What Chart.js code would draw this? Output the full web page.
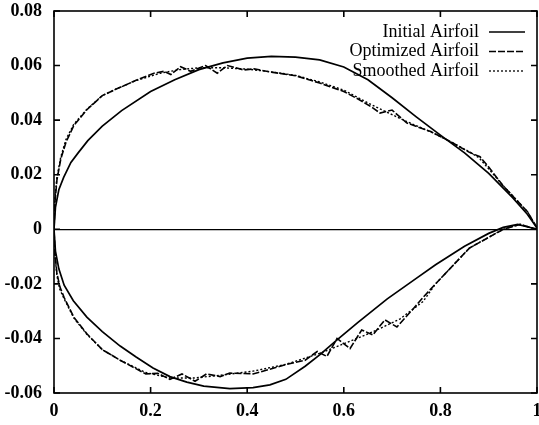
<!DOCTYPE html>
<html>
<head>
<meta charset="utf-8">
<script src="https://cdn.jsdelivr.net/npm/chart.js@4.4.0/dist/chart.umd.min.js"></script>
<style>
  html, body { margin: 0; padding: 0; background: #fff; overflow: hidden; }
</style>
</head>
<body>
<canvas id="airfoil" width="539" height="425"></canvas>
<script>
// axis ticks
var xTicks = [0, 0.2, 0.4, 0.6, 0.8, 1];
var yTicks = [-0.06, -0.04, -0.02, 0, 0.02, 0.04, 0.06, 0.08];
var seriesNames = ['Initial Airfoil', 'Optimized Airfoil', 'Smoothed Airfoil'];

// initial airfoil (upper / lower surface)
var initUpperX = [0, 0.003, 0.01, 0.02, 0.035, 0.05, 0.07, 0.1, 0.14, 0.2, 0.25, 0.3, 0.35, 0.4, 0.45, 0.5, 0.55, 0.6, 0.65, 0.7, 0.75, 0.8, 0.85, 0.9, 0.95, 0.98, 1.0];
var initUpperY = [0, 0.008, 0.0145, 0.019, 0.0245, 0.028, 0.0325, 0.0378, 0.0435, 0.0505, 0.0548, 0.0585, 0.061, 0.0627, 0.0634, 0.0631, 0.0621, 0.0595, 0.0548, 0.0482, 0.0412, 0.0345, 0.028, 0.0205, 0.0115, 0.0055, 0.0005];
var initLowerX = [0, 0.003, 0.01, 0.021, 0.04, 0.068, 0.1, 0.137, 0.17, 0.205, 0.24, 0.275, 0.31, 0.364, 0.412, 0.447, 0.48, 0.52, 0.55, 0.586, 0.63, 0.69, 0.75, 0.79, 0.85, 0.9, 0.93, 0.96, 1.0];
var initLowerY = [0, -0.008, -0.0145, -0.0205, -0.0262, -0.0322, -0.0375, -0.0428, -0.0468, -0.0508, -0.054, -0.056, -0.0575, -0.0584, -0.058, -0.057, -0.055, -0.0502, -0.046, -0.0405, -0.034, -0.0255, -0.018, -0.013, -0.0062, -0.0015, 0.0007, 0.0018, 0];

// optimized airfoil
var optUpperX = [0, 0.002, 0.006, 0.014, 0.025, 0.041, 0.068, 0.1, 0.13, 0.17, 0.207, 0.228, 0.242, 0.262, 0.283, 0.314, 0.338, 0.359, 0.393, 0.414, 0.45, 0.5, 0.55, 0.6, 0.634, 0.66, 0.675, 0.7, 0.73, 0.78, 0.82, 0.86, 0.882, 0.9, 0.93, 0.98, 1.0];
var optUpperY = [0, 0.01, 0.018, 0.0257, 0.032, 0.038, 0.0438, 0.049, 0.0515, 0.0546, 0.0572, 0.0579, 0.0567, 0.0596, 0.0579, 0.06, 0.0572, 0.06, 0.0584, 0.0588, 0.0576, 0.0563, 0.0536, 0.0505, 0.0473, 0.0445, 0.0426, 0.0437, 0.039, 0.0358, 0.0322, 0.0282, 0.0266, 0.0228, 0.0159, 0.0065, 0.0005];
var optLowerX = [0, 0.002, 0.006, 0.012, 0.021, 0.041, 0.068, 0.1, 0.137, 0.19, 0.215, 0.24, 0.265, 0.292, 0.316, 0.344, 0.364, 0.412, 0.447, 0.48, 0.52, 0.545, 0.565, 0.586, 0.613, 0.637, 0.66, 0.685, 0.71, 0.743, 0.764, 0.79, 0.86, 0.93, 0.965, 1.0];
var optLowerY = [0, -0.009, -0.016, -0.021, -0.025, -0.0322, -0.0383, -0.0441, -0.048, -0.053, -0.0528, -0.055, -0.053, -0.0557, -0.053, -0.054, -0.0527, -0.053, -0.0513, -0.0496, -0.048, -0.0448, -0.0466, -0.04, -0.0437, -0.0369, -0.0387, -0.0332, -0.0358, -0.0293, -0.025, -0.02, -0.0069, 0, 0.0018, 0];

// smoothed airfoil
var smoUpperX = [0, 0.002, 0.006, 0.014, 0.025, 0.041, 0.068, 0.1, 0.13, 0.17, 0.22, 0.26, 0.3, 0.35, 0.4, 0.45, 0.5, 0.55, 0.6, 0.65, 0.7, 0.73, 0.78, 0.82, 0.86, 0.88, 0.93, 0.98, 1.0];
var smoUpperY = [0, 0.011, 0.019, 0.0265, 0.033, 0.0385, 0.044, 0.049, 0.0515, 0.0545, 0.0572, 0.0585, 0.0592, 0.0592, 0.0587, 0.0577, 0.0564, 0.054, 0.051, 0.0463, 0.042, 0.0395, 0.0357, 0.0322, 0.0284, 0.0262, 0.016, 0.0065, 0.0005];
var smoLowerX = [0, 0.002, 0.006, 0.012, 0.021, 0.041, 0.068, 0.1, 0.137, 0.19, 0.24, 0.29, 0.344, 0.412, 0.48, 0.55, 0.613, 0.66, 0.716, 0.764, 0.79, 0.86, 0.93, 0.965, 1.0];
var smoLowerY = [0, -0.0095, -0.017, -0.022, -0.0255, -0.0325, -0.0385, -0.0441, -0.048, -0.0525, -0.0545, -0.0545, -0.0535, -0.052, -0.0495, -0.0455, -0.041, -0.0376, -0.0329, -0.0265, -0.02, -0.0069, 0, 0.0018, 0];

// trailing edge -> leading edge along upper, then back along lower
function outline(ux, uy, lx, ly) {
  var pts = [];
  for (var i = ux.length - 1; i >= 0; i--) pts.push({x: ux[i], y: uy[i]});
  for (var j = 1; j < lx.length; j++) pts.push({x: lx[j], y: ly[j]});
  return pts;
}

var serif = 'Liberation Serif, Times New Roman, serif';

var frame = {
  id: 'frame',
  afterDatasetsDraw: function(chart) {
    var ctx = chart.ctx, a = chart.chartArea;
    var xs = chart.scales.x, ys = chart.scales.y;
    ctx.save();
    ctx.strokeStyle = '#000';
    ctx.lineWidth = 1.6;
    ctx.strokeRect(a.left, a.top, a.right - a.left, a.bottom - a.top);
    ctx.beginPath();
    xTicks.forEach(function(v) {
      var p = xs.getPixelForValue(v);
      ctx.moveTo(p, a.bottom); ctx.lineTo(p, a.bottom - 6);
      ctx.moveTo(p, a.top); ctx.lineTo(p, a.top + 6);
    });
    yTicks.forEach(function(v) {
      var p = ys.getPixelForValue(v);
      ctx.moveTo(a.left, p); ctx.lineTo(a.left + 6, p);
      ctx.moveTo(a.right, p); ctx.lineTo(a.right - 6, p);
    });
    ctx.stroke();

    // legend, text on the left of the line sample
    ctx.font = '18px ' + serif;
    ctx.fillStyle = '#000';
    ctx.textAlign = 'right';
    ctx.textBaseline = 'middle';
    chart.data.datasets.forEach(function(ds, i) {
      var y = 32 + i * 19.5;
      ctx.fillText(ds.label, 479, y);
      ctx.beginPath();
      ctx.setLineDash(ds.borderDash || []);
      ctx.lineWidth = 1.3;
      ctx.moveTo(489, y); ctx.lineTo(525, y);
      ctx.stroke();
    });
    ctx.restore();
  }
};

new Chart(document.getElementById('airfoil'), {
  type: 'scatter',
  data: {
    datasets: [{
      label: seriesNames[0],
      data: outline(initUpperX, initUpperY, initLowerX, initLowerY),
      borderColor: '#000',
      borderWidth: 1.7
    }, {
      label: seriesNames[1],
      data: outline(optUpperX, optUpperY, optLowerX, optLowerY),
      borderColor: '#000',
      borderWidth: 1.6,
      borderDash: [7, 2]
    }, {
      label: seriesNames[2],
      data: outline(smoUpperX, smoUpperY, smoLowerX, smoLowerY),
      borderColor: '#000',
      borderWidth: 1.4,
      borderDash: [2, 2]
    }]
  },
  options: {
    responsive: false,
    animation: false,
    devicePixelRatio: 1,
    showLine: true,
    elements: { point: { radius: 0 }, line: { tension: 0 } },
    layout: { padding: { top: 11, right: 2, left: 0, bottom: 0 } },
    plugins: { legend: { display: false }, tooltip: { enabled: false } },
    scales: {
      x: {
        type: 'linear', min: 0, max: 1,
        afterBuildTicks: function(s) { s.ticks = xTicks.map(function(v) { return {value: v}; }); },
        afterFit: function(s) { s.height = 32; s.paddingLeft = 0; s.paddingRight = 0; },
        grid: { display: false, drawTicks: false },
        border: { display: false },
        ticks: {
          padding: 8, color: '#000', maxRotation: 0,
          font: { family: serif, size: 18, weight: 'bold' },
          callback: function(v) { return (v === 0 || v === 1) ? String(v) : v.toFixed(1); }
        }
      },
      y: {
        type: 'linear', min: -0.06, max: 0.08,
        afterBuildTicks: function(s) { s.ticks = yTicks.map(function(v) { return {value: v}; }); },
        afterFit: function(s) { s.width = 54; s.paddingTop = 0; s.paddingBottom = 0; },
        grid: {
          drawTicks: false,
          lineWidth: 1.2,
          color: function(c) { return c.tick && Math.abs(c.tick.value) < 1e-9 ? '#000' : 'rgba(0,0,0,0)'; }
        },
        border: { display: false },
        ticks: {
          padding: 12, color: '#000',
          font: { family: serif, size: 18, weight: 'bold' },
          callback: function(v) { return Math.abs(v) < 1e-9 ? '0' : v.toFixed(2); }
        }
      }
    }
  },
  plugins: [frame]
});
</script>
</body>
</html>
